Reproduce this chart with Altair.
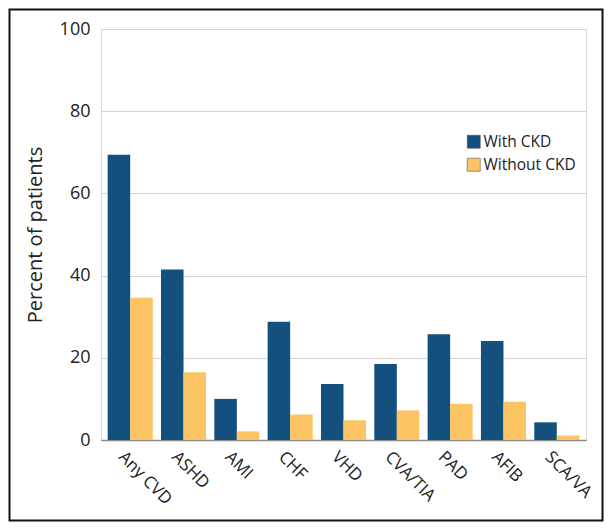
import altair as alt
import pandas as pd

categories = ["Any CVD", "ASHD", "AMI", "CHF", "VHD", "CVA/TIA", "PAD", "AFIB", "SCA/VA"]
with_ckd = [69.4, 41.5, 10.0, 28.8, 13.6, 18.5, 25.7, 24.1, 4.3]
without_ckd = [34.6, 16.5, 2.1, 6.2, 4.8, 7.2, 8.8, 9.3, 1.1]
groups = ["With CKD", "Without CKD"]
colors = ["#14507e", "#fcc463"]

rows = []
for i, c in enumerate(categories):
    rows.append({"category": c, "group": groups[0], "value": with_ckd[i]})
    rows.append({"category": c, "group": groups[1], "value": without_ckd[i]})
df = pd.DataFrame(rows)

W, H = 485, 411
PL, PT, PR, PB = 93, 21, 18, 82
FONT = "Open Sans"

bars = alt.Chart(df).mark_bar().encode(
    x=alt.X("category:N", sort=categories, title=None,
            scale=alt.Scale(paddingInner=0.155, paddingOuter=0.125),
            axis=alt.Axis(labelAngle=45, labelAlign="left", labelBaseline="middle",
                          labelFontSize=17, labelColor="#222", labelPadding=14,
                          labelOffset=-9, grid=False,
                          ticks=False, domain=True, domainColor="#8c8c8c",
                          domainWidth=1.5, labelFont=FONT)),
    xOffset=alt.XOffset("group:N", sort=groups),
    y=alt.Y("value:Q", title="Percent of patients",
            scale=alt.Scale(domain=[0, 100]),
            axis=alt.Axis(values=[0, 20, 40, 60, 80, 100], domain=False, ticks=False,
                          labelFontSize=18, labelColor="#222", labelPadding=11,
                          labelFont=FONT, titleFont=FONT, titleFontSize=20,
                          titleFontWeight="normal", titleColor="#222",
                          titlePadding=14, gridColor="#d9d2d2", gridWidth=1)),
    color=alt.Color("group:N", sort=groups,
                    scale=alt.Scale(domain=groups, range=colors),
                    legend=alt.Legend(title=None, orient="none", legendX=365, legendY=105,
                                      symbolType="square", symbolSize=169,
                                      symbolStrokeColor="#555", symbolStrokeWidth=0.6,
                                      labelFontSize=15.5, labelFont=FONT, labelColor="#222",
                                      labelOffset=2, rowPadding=6)),
)

frame = alt.Chart(pd.DataFrame({"a": [0]})).mark_rect(
    filled=False, stroke="#111", strokeWidth=2
).encode(
    x=alt.value(-PL + 1.5), x2=alt.value(W + PR - 1.5),
    y=alt.value(-PT + 1.5), y2=alt.value(H + PB - 1.5)
)

chart = alt.layer(bars, frame).properties(
    width=W, height=H,
    autosize=alt.AutoSizeParams(type="none"),
    padding={"left": PL, "top": PT, "right": PR, "bottom": PB},
).configure_view(stroke=None).configure(background="white")

chart.save("out.html", embed_options={"renderer": "svg", "actions": False})
